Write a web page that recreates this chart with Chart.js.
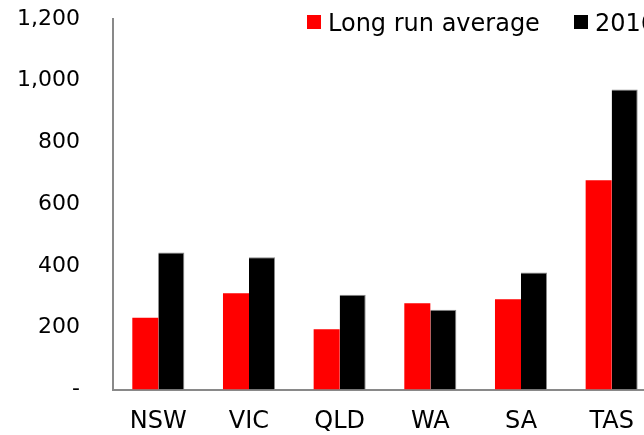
<!DOCTYPE html>
<html lang="en">

<head>
    <meta charset="UTF-8">
    <title>Long run average vs 2016</title>
    <script src="https://cdn.jsdelivr.net/npm/chart.js"></script>
    <style>
        body {
            margin: 0;
            padding: 0;
            background: #fff;
            overflow: hidden;
        }

        #wrap {
            position: relative;
            width: 660px;
            height: 435px;
        }
    </style>
</head>

<body>
    <div id="wrap">
        <canvas id="chart"></canvas>
    </div>

    <script>
        const states = ['NSW', 'VIC', 'QLD', 'WA', 'SA', 'TAS'];
        const longRunAverage = [232, 312, 195, 279, 292, 678];
        const year2016 = [444, 428, 307, 258, 379, 972];
        const yTickLabels = ['-', '200', '400', '600', '800', '1,000', '1,200'];

        const FONT = "'DejaVu Sans', sans-serif";
        const AXIS_GREY = '#898989';

        // legend drawn on top of the plot, like the original
        const legendPlugin = {
            id: 'topLegend',
            afterDraw: (chart) => {
                const ctx = chart.ctx;
                const items = chart.data.datasets;
                const xs = [307, 574];
                ctx.save();
                ctx.font = '24px ' + FONT;
                ctx.textBaseline = 'alphabetic';
                items.forEach((ds, i) => {
                    ctx.fillStyle = ds.backgroundColor;
                    ctx.fillRect(xs[i], 15, 14, 14);
                    ctx.fillStyle = '#000';
                    ctx.fillText(ds.label, xs[i] + 21, 31);
                });
                ctx.restore();
            }
        };

        const ctx = document.getElementById('chart').getContext('2d');

        new Chart(ctx, {
            type: 'bar',
            data: {
                labels: states,
                datasets: [{
                    label: 'Long run average',
                    data: longRunAverage,
                    backgroundColor: '#ff0000',
                    borderWidth: 0
                }, {
                    label: '2016',
                    data: year2016,
                    backgroundColor: '#000000',
                    borderColor: '#8a8a8a',
                    borderWidth: { top: 1, right: 1, left: 0, bottom: 0 }
                }]
            },
            options: {
                responsive: true,
                maintainAspectRatio: false,
                animation: false,
                categoryPercentage: 0.574,
                barPercentage: 1,
                layout: {
                    padding: { top: 19, right: 3, bottom: 0, left: 0 }
                },
                plugins: {
                    legend: { display: false },
                    tooltip: { enabled: false }
                },
                scales: {
                    x: {
                        grid: { display: false, drawTicks: false },
                        border: { color: AXIS_GREY, width: 2 },
                        ticks: {
                            color: '#000',
                            font: { family: FONT, size: 24 },
                            padding: 18,
                            maxRotation: 0
                        },
                        afterFit: (scale) => {
                            scale.height = 45.5;
                            scale.paddingLeft = 0;
                            scale.paddingRight = 0;
                        }
                    },
                    y: {
                        min: 0,
                        max: 1200,
                        grid: { display: false, drawTicks: false },
                        border: { color: AXIS_GREY, width: 2 },
                        ticks: {
                            stepSize: 200,
                            color: '#000',
                            font: { family: FONT, size: 22 },
                            padding: 33,
                            callback: (v, i) => yTickLabels[i]
                        },
                        afterFit: (scale) => {
                            scale.width = 113;
                            scale.paddingTop = 0;
                            scale.paddingBottom = 0;
                        }
                    }
                }
            },
            plugins: [legendPlugin]
        });
    </script>

</body>

</html>
